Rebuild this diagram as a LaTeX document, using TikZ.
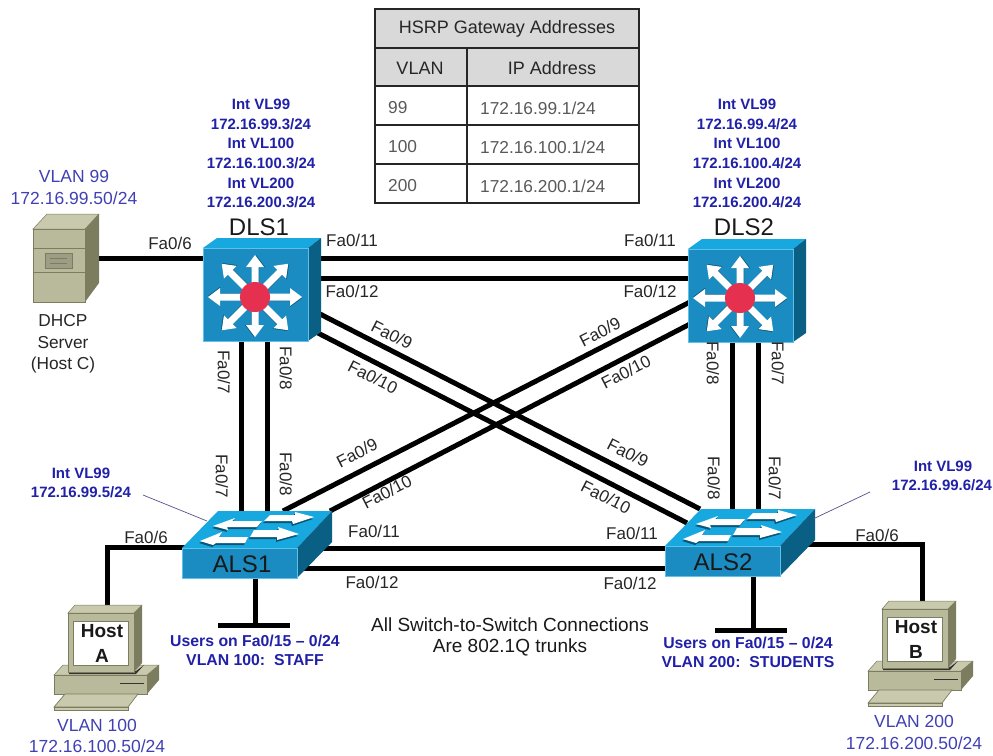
\documentclass[tikz,border=0pt]{standalone}
\usepackage{fontspec}
\setmainfont{Liberation Sans}
\definecolor{swfront}{HTML}{1A8CC2}
\definecolor{swtop}{HTML}{18A8E0}
\definecolor{swside}{HTML}{0A5F85}
\definecolor{swshade}{HTML}{0B5578}
\definecolor{swred}{HTML}{E5304F}
\definecolor{lblblue}{HTML}{2020A8}
\definecolor{hostblue}{HTML}{4040B4}
\definecolor{begefront}{HTML}{B9B99C}
\definecolor{begetop}{HTML}{C9C9AE}
\definecolor{begeside}{HTML}{7C7C5E}
\definecolor{tblhead}{HTML}{D9D9D9}
\newcommand{\fs}[1]{\fontsize{#1}{#1}\selectfont}
\tikzset{
  link/.style={line width=5pt,black},
  leader/.style={line width=.7pt,color=black!35!blue!35!gray},
  port/.style={font=\fs{17},inner sep=0pt,text=black!85},
  blueb/.style={font=\fs{15}\bfseries,inner sep=0pt,text=lblblue,align=center},
  blueu/.style={font=\fs{15.8}\bfseries,inner sep=0pt,text=lblblue,align=center},
  bluer/.style={font=\fs{17.5},inner sep=0pt,text=hostblue,align=center},
  swname/.style={font=\fs{24},inner sep=0pt,text=black!90},
  plain/.style={font=\fs{17.3},inner sep=0pt,text=black!85},
  note/.style={font=\fs{19},inner sep=0pt,text=black!90},
  thead/.style={font=\fs{18},inner sep=0pt,text=black!85},
  tcell/.style={font=\fs{17.3},inner sep=0pt,text=black!65,anchor=west},
}
% multilayer switch: #1 name, #2 x, #3 y
\newcommand{\mlswitch}[3]{%
\begin{scope}[shift={(#2,#3)}]
  \fill[swtop] (0,0)--(14,-10)--(118,-10)--(105,0)--cycle;
  \fill[swside] (105,0)--(118,-10)--(118,84)--(105,93)--cycle;
  \node[draw=swtop!70!white,line width=.5pt,fill=swfront,minimum width=105pt,minimum height=93pt,inner sep=0pt,anchor=north west] (#1) at (0,0) {};
  \foreach \a/\l in {0/47,45/47,90/42,135/47,180/47,225/47,270/40,315/47}{
    \begin{scope}[shift={(52,49)},rotate=\a]
      \fill[swshade] (0,-3)--(\l-12,-3)--(\l-12,-9)--(\l,1)--(\l-12,10)--(\l-12,4)--(0,4)--cycle;
      \fill[white] (0,-3.5)--(\l-12,-3.5)--(\l-12,-9)--(\l,0)--(\l-12,9)--(\l-12,3.5)--(0,3.5)--cycle;
    \end{scope}}
  \fill[swred] (52,49) circle (15);
\end{scope}}
% workgroup switch: #1 name, #2 x, #3 y, #4 label, #5 label x offset
\newcommand{\wgarrow}[1]{\fill[swshade,shift={(-1,2)}] #1; \fill[white] #1;}
\newcommand{\wgswitch}[5]{%
\begin{scope}[shift={(#2,#3)}]
  \fill[swtop] (0,0)--(36,-37)--(150,-37)--(115,0)--cycle;
  \fill[swside] (115,0)--(150,-37)--(150,-6)--(115,30)--cycle;
  \node[draw=swtop!70!white,line width=.5pt,fill=swfront,minimum width=115pt,minimum height=30pt,inner sep=0pt,anchor=north west] (#1) at (0,0) {};
  \wgarrow{(31,-22)--(53,-30)--(50,-27)--(80,-27)--(75,-21)--(45,-21)--(46,-18)--cycle}
  \wgarrow{(132,-31)--(113,-36)--(113,-33)--(88,-33)--(82,-27)--(110,-27)--(111,-24)--cycle}
  \wgarrow{(18,-7)--(40,-16)--(37,-11)--(66,-11)--(63,-5)--(34,-5)--(31,-3)--cycle}
  \wgarrow{(117,-14)--(96,-21)--(97,-18)--(72,-18)--(68,-11)--(95,-11)--(95,-8)--cycle}
  \node[swname] (#1label) at (#5,16) {#4};
\end{scope}}
% host: #1 name, #2 x, #3 y (monitor front top-left), #4 letter
\newcommand{\hostpc}[4]{%
\begin{scope}[shift={(#2,#3)}]
  % base
  \fill[begetop,draw=begeside,line width=.5pt] (-14,62)--(-5,52)--(91,52)--(79,62)--cycle;
  \fill[begeside] (79,62)--(91,52)--(91,67)--(79,81)--cycle;
  \fill[begefront,draw=begeside,line width=.5pt] (-14,62) rectangle (79,81);
  \draw[black!80,line width=1pt] (52,70)--(76,70);
  % keyboard
  \fill[begetop,draw=begeside,line width=.7pt] (-3,81)--(70,81)--(60,94)--(-14,94)--cycle;
  \fill[begetop,draw=begeside,line width=.5pt] (-14,94) rectangle (60,97);
  % monitor
  \fill[black!80] (1,58)--(68,58)--(76,52)--(68,61)--(1,61)--cycle;
  \fill[begetop,draw=begeside,line width=.5pt] (0,0)--(7,-8)--(74,-8)--(66,0)--cycle;
  \fill[begeside] (66,0)--(74,-8)--(74,50)--(66,59)--cycle;
  \fill[begefront,draw=begeside,line width=.5pt] (0,0) rectangle (66,59);
  \node[draw=begeside,line width=.8pt,fill=white,minimum width=55pt,minimum height=44pt,inner sep=0pt,anchor=north west] (#1) at (5,8) {};
  \node[font=\fs{19}\bfseries,inner sep=0pt,text=black!90] (#1line1) at (34,18) {Host};
  \node[font=\fs{19}\bfseries,inner sep=0pt,text=black!90] (#1line2) at (34,43) {#4};
\end{scope}}
\begin{document}
\begin{tikzpicture}[x=1pt,y=-1pt]
\useasboundingbox (0,0) rectangle (993,755);
% port coordinates
\coordinate (srvP) at (99,258);
\coordinate (d1p6) at (203,258);
\coordinate (d1p11) at (318,258);  \coordinate (d2p11) at (690,258);
\coordinate (d1p12) at (318,278);  \coordinate (d2p12) at (690,278);
\coordinate (d1p7) at (241,338);   \coordinate (a1p7) at (241,515);
\coordinate (d1p8) at (267,338);   \coordinate (a1p8) at (267,515);
\coordinate (d2p7) at (758,338);   \coordinate (a2p7) at (758,513);
\coordinate (d2p8) at (732,338);   \coordinate (a2p8) at (732,513);
\coordinate (d1p9) at (320,314);   \coordinate (a2p9) at (700,509);
\coordinate (d1p10) at (316,332);  \coordinate (a2p10) at (687,523);
\coordinate (d2p9) at (690,302);   \coordinate (a1p9) at (283,511);
\coordinate (d2p10) at (690,324);  \coordinate (a1p10) at (330,511);
\coordinate (a1p11) at (320,548);  \coordinate (a2p11) at (668,548);
\coordinate (a1p12) at (300,568);  \coordinate (a2p12) at (668,568);
\coordinate (a1p6) at (185,547);   \coordinate (hAt) at (107,606);
\coordinate (a2p6) at (808,544);   \coordinate (hBt) at (922,603);
\coordinate (a1st) at (255,576);   \coordinate (a1bus) at (255,625);
\coordinate (a2st) at (753,575);   \coordinate (a2bus) at (753,630);
\coordinate (a1busL) at (218,625); \coordinate (a1busR) at (290,625);
\coordinate (a2busL) at (715,630); \coordinate (a2busR) at (787,630);
\coordinate (ld1a) at (143,495);   \coordinate (ld1b) at (207,521);
\coordinate (ld2a) at (870,492);   \coordinate (ld2b) at (813,519);
% links
\draw[link] (srvP)--(d1p6);
\draw[link] (d1p11)--(d2p11);
\draw[link] (d1p12)--(d2p12);
\foreach \p in {7,8}{\draw[link] (d1p\p)--(a1p\p); \draw[link] (d2p\p)--(a2p\p);}
\foreach \p in {9,10}{\draw[link] (d1p\p)--(a2p\p); \draw[link] (d2p\p)--(a1p\p);}
\draw[link] (a1p11)--(a2p11);
\draw[link] (a1p12)--(a2p12);
\draw[link,line join=miter] (a1p6)-|(hAt);
\draw[link,line join=miter] (a2p6)-|(hBt);
\draw[link] (a1st)--(a1bus);
\draw[link] (a2st)--(a2bus);
\draw[link] (a1busL)--(a1busR);
\draw[link] (a2busL)--(a2busR);
% devices
\mlswitch{DLS1}{203}{248}
\mlswitch{DLS2}{688}{249}
\wgswitch{ALS1}{182}{548}{ALS1}{60}
\wgswitch{ALS2}{665}{546}{ALS2}{58}
\draw[leader] (ld1a)--(ld1b);
\draw[leader] (ld2a)--(ld2b);
% server
\fill[begetop,draw=begeside,line width=.5pt] (33,229)--(47,214)--(99,214)--(85,229)--cycle;
\fill[begeside] (85,229)--(99,214)--(99,283)--(85,302)--cycle;
\node[draw=begeside,line width=.5pt,fill=begefront,minimum width=52pt,minimum height=73pt,inner sep=0pt,anchor=north west] (srv) at (33,229) {};
\draw[begeside,line width=.8pt] (33,248)--(85,248) (33,272)--(85,272);
\fill[begefront!85!black,draw=begeside,line width=.7pt] (45,253) rectangle (72,268);
\draw[begeside,line width=.7pt] (50,258)--(67,258) (50,263)--(67,263);
% hosts
\hostpc{hostA}{68}{613}{A}
\hostpc{hostB}{882}{609}{B}
% table
\node[draw=black!85,line width=1.6pt,fill=tblhead,minimum width=264pt,minimum height=39pt,inner sep=0pt,anchor=north west] (t0) at (374,8) {};
\node[draw=black!85,line width=1.6pt,fill=tblhead,minimum width=92pt,minimum height=38pt,inner sep=0pt,anchor=north west] (t1a) at (374,47) {};
\node[draw=black!85,line width=1.6pt,fill=tblhead,minimum width=172pt,minimum height=38pt,inner sep=0pt,anchor=north west] (t1b) at (466,47) {};
\foreach \r/\y/\h in {2/85/39,3/124/39,4/163/39}{
  \node[draw=black!85,line width=1.6pt,minimum width=92pt,minimum height=\h pt,inner sep=0pt,anchor=north west] (t\r a) at (374,\y) {};
  \node[draw=black!85,line width=1.6pt,minimum width=172pt,minimum height=\h pt,inner sep=0pt,anchor=north west] (t\r b) at (466,\y) {};
}
\node[thead] (tt) at (507,29) {HSRP Gateway Addresses};
\node[thead] (tv) at (420,68) {VLAN};
\node[thead] (ti) at (552,68) {IP Address};
\node[tcell] (c1) at (388,108) {99};
\node[tcell] (c2) at (388,147) {100};
\node[tcell] (c3) at (388,186) {200};
\node[tcell] (c4) at (480,108) {172.16.99.1/24};
\node[tcell] (c5) at (480,147) {172.16.100.1/24};
\node[tcell] (c6) at (480,186) {172.16.200.1/24};
% switch names
\node[swname] (n1) at (259,227) {DLS1};
\node[swname] (n2) at (744,227) {DLS2};
% blue labels
\foreach \n/\x/\ip in {L/261/3,R/747/4}{
  \node[blueb] (i\n1) at (\x,104) {Int VL99};
  \node[blueb] (i\n2) at (\x,124) {172.16.99.\ip/24};
  \node[blueb] (i\n3) at (\x,143) {Int VL100};
  \node[blueb] (i\n4) at (\x,163) {172.16.100.\ip/24};
  \node[blueb] (i\n5) at (\x,183) {Int VL200};
  \node[blueb] (i\n6) at (\x,202) {172.16.200.\ip/24};
}
\node[bluer] (v1) at (74,176) {VLAN 99};
\node[bluer] (v2) at (74,198) {172.16.99.50/24};
\node[plain] (s1) at (63,321) {DHCP};
\node[plain] (s2) at (63,343) {Server};
\node[plain] (s3) at (63,365) {(Host C)};
\node[blueb] (a1) at (81,473) {Int VL99};
\node[blueb] (a2) at (81,492) {172.16.99.5/24};
\node[blueb] (a3) at (943,466) {Int VL99};
\node[blueb] (a4) at (942,485) {172.16.99.6/24};
\node[blueu] (u1) at (255,641) {Users on Fa0/15 – 0/24};
\node[blueu] (u2) at (255,660) {VLAN 100:\ \ STAFF};
\node[blueu] (u3) at (748,643) {Users on Fa0/15 – 0/24};
\node[blueu] (u4) at (748,662) {VLAN 200:\ \ STUDENTS};
\node[bluer] (h1) at (97,725) {VLAN 100};
\node[bluer] (h2) at (97,746) {172.16.100.50/24};
\node[bluer] (h3) at (914,721) {VLAN 200};
\node[bluer] (h4) at (914,743) {172.16.200.50/24};
\node[note] (m1) at (510,625) {All Switch-to-Switch Connections};
\node[note] (m2) at (510,647) {Are 802.1Q trunks};
% port labels
\node[port] (p1) at (170,243) {Fa0/6};
\node[port] (p2) at (146,537) {Fa0/6};
\node[port] (p3) at (877,535) {Fa0/6};
\node[port] (p4) at (352,240) {Fa0/11};
\node[port] (p5) at (352,291) {Fa0/12};
\node[port] (p6) at (650,240) {Fa0/11};
\node[port] (p7) at (650,291) {Fa0/12};
\node[port] (p8) at (374,531) {Fa0/11};
\node[port] (p9) at (372,582) {Fa0/12};
\node[port] (p10) at (632,533) {Fa0/11};
\node[port] (p11) at (630,583) {Fa0/12};
\node[port,rotate=-90] (p12) at (224,372) {Fa0/7};
\node[port,rotate=-90] (p13) at (286,368) {Fa0/8};
\node[port,rotate=-90] (p14) at (222,476) {Fa0/7};
\node[port,rotate=-90] (p15) at (286,474) {Fa0/8};
\node[port,rotate=-90] (p16) at (713,363) {Fa0/8};
\node[port,rotate=-90] (p17) at (778,363) {Fa0/7};
\node[port,rotate=-90] (p18) at (714,478) {Fa0/8};
\node[port,rotate=-90] (p19) at (775,478) {Fa0/7};
\node[port,rotate=-27] (p20) at (392,335) {Fa0/9};
\node[port,rotate=-27] (p21) at (373,377) {Fa0/10};
\node[port,rotate=27] (p22) at (600,332) {Fa0/9};
\node[port,rotate=27] (p23) at (626,372) {Fa0/10};
\node[port,rotate=27] (p24) at (357,453) {Fa0/9};
\node[port,rotate=27] (p25) at (387,492) {Fa0/10};
\node[port,rotate=-27] (p26) at (628,453) {Fa0/9};
\node[port,rotate=-27] (p27) at (606,497) {Fa0/10};
\end{tikzpicture}
\end{document}
